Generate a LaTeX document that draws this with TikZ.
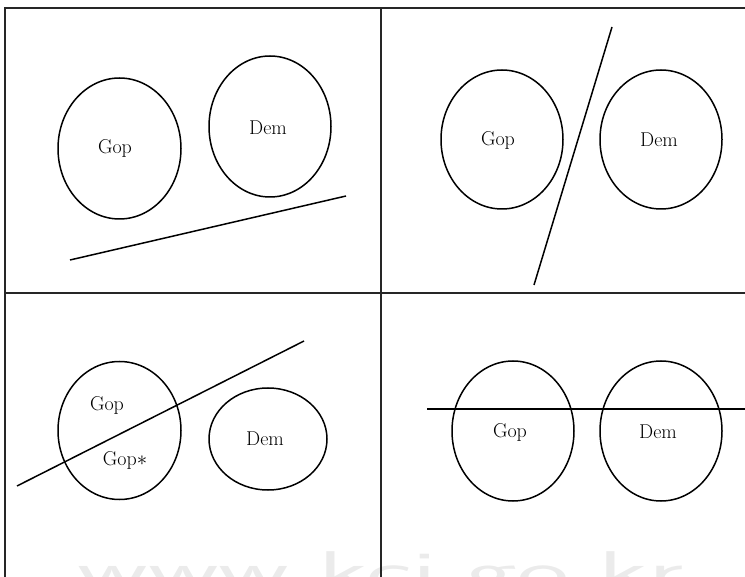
\documentclass[tikz,border=0pt]{standalone}
\usetikzlibrary{shapes.geometric}
\begin{document}
\begin{tikzpicture}[x=1pt,y=-1pt,
  party/.style={draw,ellipse,line width=1.5pt,inner sep=0pt},
  lbl/.style={font=\fontsize{20}{22}\selectfont,inner sep=0pt},
  cut/.style={line width=1.5pt},
  frame/.style={line width=1.3pt,draw=black!85}]
\useasboundingbox (0,0) rectangle (745,577);
\begin{scope}
\clip (0,0) rectangle (745,577);
\node[font=\sffamily\fontsize{56}{60}\selectfont,text=black!8,anchor=base west,xscale=1.97,inner sep=0pt] (wm) at (77,590) {www.kci.go.kr};
\end{scope}
% frame
\coordinate (tl) at (5,8); \coordinate (tr) at (745,8);
\coordinate (bl) at (5,577); \coordinate (ml) at (5,293); \coordinate (mr) at (745,293);
\coordinate (mt) at (381,8); \coordinate (mb) at (381,577);
\draw[frame] (tr) -- (tl) -- (bl);
\draw[frame] (ml) -- (mr);
\draw[frame] (mt) -- (mb);
% panel 1
\node[party,minimum width=123pt,minimum height=141pt] (g1) at (119.5,148.5) {};
\node[party,minimum width=122pt,minimum height=141pt] (d1) at (270,126.5) {};
\node[lbl] (g1t) at (115,148) {Gop};
\node[lbl] (d1t) at (268,128) {Dem};
\coordinate (a1) at (70,260); \coordinate (b1) at (346,196);
\draw[cut] (a1) -- (b1);
% panel 2
\node[party,minimum width=122pt,minimum height=139pt] (g2) at (502,139.5) {};
\node[party,minimum width=122pt,minimum height=139pt] (d2) at (661,139.5) {};
\node[lbl] (g2t) at (498,140) {Gop};
\node[lbl] (d2t) at (659,140) {Dem};
\coordinate (a2) at (612,27); \coordinate (b2) at (534,285);
\draw[cut] (a2) -- (b2);
% panel 3
\node[party,minimum width=123pt,minimum height=138pt] (g3) at (119.5,430.5) {};
\node[party,minimum width=118pt,minimum height=102pt] (d3) at (268,439) {};
\node[lbl] (g3t) at (107,405) {Gop};
\node[lbl] (g3s) at (125,460) {Gop$\ast$};
\node[lbl] (d3t) at (265,439) {Dem};
\coordinate (a3) at (17,486); \coordinate (b3) at (304,341);
\draw[cut] (a3) -- (b3);
% panel 4
\node[party,minimum width=122pt,minimum height=140pt] (g4) at (513,431) {};
\node[party,minimum width=122pt,minimum height=140pt] (d4) at (661,431) {};
\node[lbl] (g4t) at (510,432) {Gop};
\node[lbl] (d4t) at (658,432) {Dem};
\coordinate (a4) at (427,409); \coordinate (b4) at (745,409);
\draw[cut] (a4) -- (b4);
\end{tikzpicture}
\end{document}
